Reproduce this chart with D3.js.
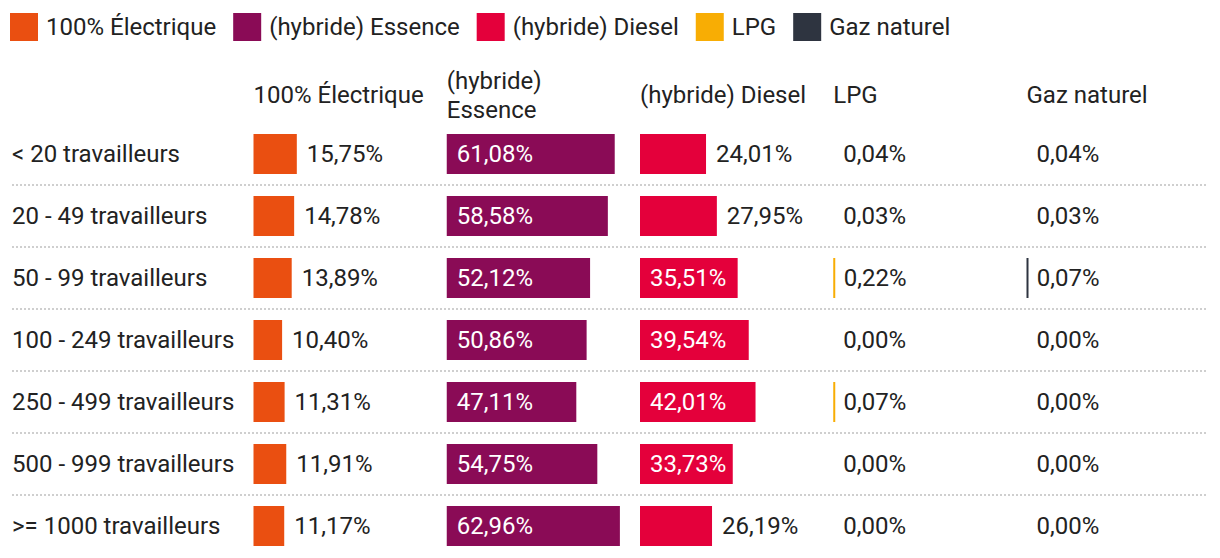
<!DOCTYPE html>
<html>
<head>
<meta charset="utf-8">
<script src="https://cdn.jsdelivr.net/npm/d3@7"></script>
<style>
  body { margin: 0; background: #fff; }
  svg { font-family: Roboto, "Noto Sans", sans-serif; }
  text { fill: #222; }
</style>
</head>
<body>
<svg></svg>
<script>
// DATA
const categories = ["< 20 travailleurs", "20 - 49 travailleurs", "50 - 99 travailleurs",
  "100 - 249 travailleurs", "250 - 499 travailleurs", "500 - 999 travailleurs", ">= 1000 travailleurs"]
const series = ["100% Électrique", "(hybride) Essence", "(hybride) Diesel", "LPG", "Gaz naturel"]
const colors = ["#ea4f11", "#8a0b56", "#e4003b", "#f8ad04", "#2e3440"]

const electrique = [15.75, 14.78, 13.89, 10.40, 11.31, 11.91, 11.17]
const essence = [61.08, 58.58, 52.12, 50.86, 47.11, 54.75, 62.96]
const diesel = [24.01, 27.95, 35.51, 39.54, 42.01, 33.73, 26.19]
const lpg = [0.04, 0.03, 0.22, 0.00, 0.07, 0.00, 0.00]
const gaz = [0.04, 0.03, 0.07, 0.00, 0.00, 0.00, 0.00]

const values = [electrique, essence, diesel, lpg, gaz]

// SETUP
const width = 1220
const height = 558
const fontSize = 24

const svg = d3.select("svg")
  .attr("width", width)
  .attr("height", height)
  .style("font-size", fontSize + "px")

const fmt = (v) => d3.format(".2f")(v).replace(".", ",") + "%"

// legend
const legend = svg.append("g").attr("transform", "translate(10, 13)")
let lx = 0
series.forEach((s, i) => {
  const item = legend.append("g").attr("transform", `translate(${lx}, 0)`)
  item.append("rect")
    .attr("width", 28)
    .attr("height", 28)
    .attr("fill", colors[i])
  const t = item.append("text")
    .attr("x", 36)
    .attr("y", 22)
    .text(s)
  lx += 36 + t.node().getComputedTextLength() + 17
})

// scales
const colScale = d3.scaleBand()
  .domain(series)
  .range([253.5, 253.5 + 5 * 193.25])

const rowScale = d3.scaleBand()
  .domain(categories)
  .range([123, 123 + 7 * 62])

const barScale = d3.scaleLinear()
  .domain([0, 70])
  .range([0, 192.5])

const barHeight = 40

// headers (wrap when too wide for the column)
series.forEach((s) => {
  const t = svg.append("text")
    .attr("x", colScale(s))
    .text(s)
  let lines = [s]
  if (t.node().getComputedTextLength() > colScale.bandwidth() - 10) {
    const words = s.split(" ")
    lines = [words.slice(0, -1).join(" "), words[words.length - 1]]
  }
  t.text(null)
  const y0 = 103 - (lines.length - 1) * 29 / 2
  lines.forEach((line, j) => {
    t.append("tspan")
      .attr("x", colScale(s))
      .attr("y", y0 + j * 29)
      .text(line)
  })
})

// separators
svg.append("g")
  .selectAll("line")
  .data(categories.slice(0, -1))
  .join("line")
  .attr("x1", 12)
  .attr("x2", 1208)
  .attr("y1", (d) => rowScale(d) + rowScale.bandwidth())
  .attr("y2", (d) => rowScale(d) + rowScale.bandwidth())
  .attr("stroke", "#cfcfcf")
  .attr("stroke-width", 2)
  .attr("stroke-dasharray", "2,2")

// rows
const rows = svg.selectAll("g.row")
  .data(categories)
  .join("g")
  .attr("class", "row")
  .attr("transform", (d) => `translate(0, ${rowScale(d) + rowScale.bandwidth() / 2})`)

rows.append("text")
  .attr("x", 12)
  .attr("y", 8)
  .text((d) => d)

series.forEach((s, si) => {
  const x0 = colScale(s)
  rows.each(function (d, ri) {
    const g = d3.select(this)
    const v = values[si][ri]
    const w = barScale(v)
    // values below 0.05% are too thin to draw
    const drawW = v < 0.05 ? 0 : Math.max(w, 2)
    if (drawW > 0) {
      g.append("rect")
        .attr("x", x0)
        .attr("y", -barHeight / 2)
        .attr("width", drawW)
        .attr("height", barHeight)
        .attr("fill", colors[si])
    }
    const label = g.append("text")
      .attr("y", 8)
      .text(fmt(v))
    const tw = label.node().getComputedTextLength()
    if (w >= tw + 14) {
      label.attr("x", x0 + 10).style("fill", "#fff")
    } else {
      label.attr("x", x0 + w + 10)
    }
  })
})
</script>
</body>
</html>
